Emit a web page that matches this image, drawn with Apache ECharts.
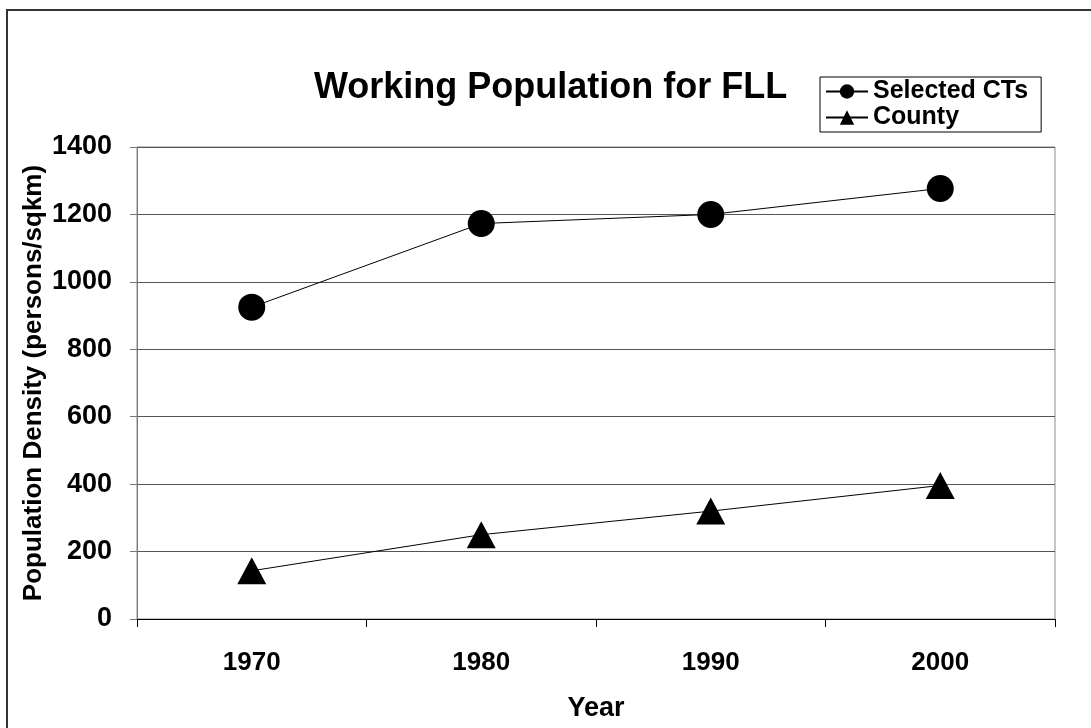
<!DOCTYPE html>
<html>
<head>
<meta charset="utf-8">
<style>
  html, body { margin: 0; padding: 0; background: #ffffff; }
  #chart { width: 1091px; height: 728px; }
</style>
<script src="https://cdn.jsdelivr.net/npm/echarts@6/dist/echarts.min.js"></script>
</head>
<body>
<div id="chart"></div>
<script>
// Working population density, census years
const years = ['1970', '1980', '1990', '2000'];
const selectedCTs = [925, 1173, 1200, 1277];
const county = [143, 250, 320, 396];
const yTicks = { min: 0, max: 1400, interval: 200 };

const FONT = '"Liberation Sans", Arial, sans-serif';

const chart = echarts.init(document.getElementById('chart'), null, { renderer: 'canvas' });

chart.setOption({
  backgroundColor: '#ffffff',
  animation: false,
  textStyle: { fontFamily: FONT, color: '#000' },
  title: {
    text: 'Working Population for FLL',
    left: 314,
    top: 70,
    padding: 0,
    textStyle: { fontFamily: FONT, fontWeight: 'bold', fontSize: 36, color: '#000' }
  },
  legend: {
    orient: 'vertical',
    left: 820,
    top: 77,
    padding: [2, 13, 2, 5],
    itemGap: 1,
    itemWidth: 42,
    itemHeight: 18,
    borderColor: '#000',
    borderWidth: 1,
    backgroundColor: '#fff',
    textStyle: { fontFamily: FONT, fontWeight: 'bold', fontSize: 25, lineHeight: 24, color: '#000' },
    data: ['Selected CTs', 'County']
  },
  grid: {
    left: 137,
    right: 36,
    top: 147,
    bottom: 109,
    show: true,
    borderColor: '#8c8c8c',
    borderWidth: 1,
    backgroundColor: '#fff'
  },
  xAxis: {
    type: 'category',
    data: years,
    boundaryGap: true,
    name: 'Year',
    nameLocation: 'middle',
    nameGap: 76,
    nameMoveOverlap: false,
    nameTextStyle: { fontFamily: FONT, fontWeight: 'bold', fontSize: 27, color: '#000' },
    axisLine: { lineStyle: { color: '#000', width: 1 } },
    axisTick: { show: true, length: 8, lineStyle: { color: '#000' } },
    axisLabel: { fontFamily: FONT, fontWeight: 'bold', fontSize: 26, color: '#000', margin: 31 },
    splitLine: { show: false }
  },
  yAxis: {
    type: 'value',
    min: yTicks.min,
    max: yTicks.max,
    interval: yTicks.interval,
    name: 'Population Density (persons/sqkm)',
    nameLocation: 'middle',
    nameGap: 90,
    nameMoveOverlap: false,
    nameRotate: 90,
    nameTextStyle: { fontFamily: FONT, fontWeight: 'bold', fontSize: 26, color: '#000' },
    axisLine: { show: true, lineStyle: { color: '#7a7a7a', width: 1 } },
    axisTick: { show: true, length: 7, lineStyle: { color: '#7a7a7a' } },
    axisLabel: {
      fontFamily: FONT, fontWeight: 'bold', fontSize: 27, color: '#000', margin: 25,
      formatter: function (v) { return String(v); }
    },
    splitLine: { show: true, lineStyle: { color: '#555', width: 1 } }
  },
  series: [
    {
      name: 'Selected CTs',
      type: 'line',
      data: selectedCTs,
      symbol: 'circle',
      symbolSize: 27,
      itemStyle: { color: '#000' },
      lineStyle: { color: '#000', width: 1 },
      z: 3
    },
    {
      name: 'County',
      type: 'line',
      data: county,
      symbol: 'triangle',
      symbolSize: [29, 27],
      itemStyle: { color: '#000' },
      lineStyle: { color: '#000', width: 1 },
      z: 3
    }
  ],
  graphic: [
    {
      type: 'polyline',
      shape: { points: [[7, 728], [7, 10], [1091, 10]] },
      style: { stroke: '#333', lineWidth: 2, fill: null },
      silent: true
    }
  ]
});
</script>
</body>
</html>
